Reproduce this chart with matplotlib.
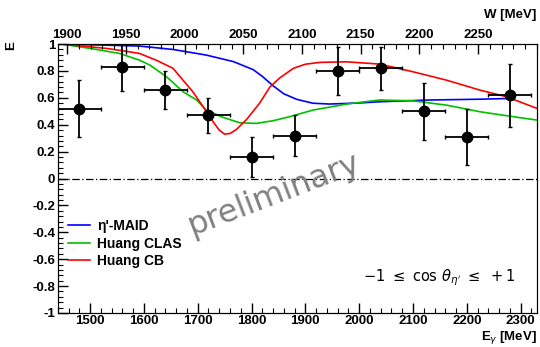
import numpy as np
import matplotlib
matplotlib.use('Agg')
import matplotlib.pyplot as plt
from matplotlib.ticker import MultipleLocator

plt.rcParams['font.family'] = ['Liberation Sans', 'DejaVu Sans']

# measured asymmetry E, bins of 80 MeV in E_gamma
e_gamma = [1480, 1560, 1640, 1720, 1800, 1880, 1960, 2040, 2120, 2200, 2280]
e_val = [0.52, 0.83, 0.66, 0.47, 0.16, 0.32, 0.80, 0.82, 0.50, 0.31, 0.62]
e_err = [0.21, 0.18, 0.14, 0.13, 0.15, 0.15, 0.18, 0.16, 0.21, 0.21, 0.235]
bin_half = [40] * len(e_gamma)

# model curves
maid_x = [1447, 1500, 1592, 1654, 1716, 1766, 1803, 1820, 1840, 1860, 1884, 1914,
          1945, 2000, 2038, 2131, 2224, 2286]
maid_y = [1.0, 0.995, 0.985, 0.96, 0.918, 0.87, 0.81, 0.76, 0.69, 0.63, 0.589, 0.56,
          0.554, 0.562, 0.571, 0.584, 0.59, 0.596]

clas_x = [1447, 1500, 1555, 1592, 1611, 1642, 1673, 1698, 1716, 1747, 1778, 1809,
          1840, 1871, 1914, 1977, 2038, 2100, 2162, 2224, 2286, 2330]
clas_y = [1.0, 0.968, 0.93, 0.88, 0.844, 0.757, 0.645, 0.584, 0.509, 0.455, 0.415, 0.41,
          0.43, 0.46, 0.509, 0.554, 0.584, 0.578, 0.546, 0.497, 0.46, 0.435]

cb_x = [1447, 1530, 1561, 1592, 1623, 1654, 1673, 1691, 1710, 1729, 1740, 1750,
        1760, 1772, 1791, 1815, 1834, 1853, 1878, 1900, 1927, 1977, 2038, 2100,
        2162, 2224, 2274, 2330]
cb_y = [1.0, 0.968, 0.95, 0.93, 0.88, 0.82, 0.73, 0.645, 0.534, 0.42, 0.36, 0.33,
        0.335, 0.365, 0.44, 0.56, 0.68, 0.75, 0.82, 0.85, 0.864, 0.868, 0.851, 0.794,
        0.732, 0.658, 0.608, 0.522]

fig = plt.figure(figsize=(5.4, 3.47), dpi=100)
ax = fig.add_axes([0.107, 0.098, 0.887, 0.775])

ax.axhline(0, color='black', lw=0.9, ls=(0, (6, 2, 1, 2)))
ax.plot(maid_x, maid_y, color='#0000ff', lw=1.2, label="η'-MAID")
ax.plot(clas_x, clas_y, color='#00c000', lw=1.2, label='Huang CLAS')
ax.plot(cb_x, cb_y, color='#ff0000', lw=1.2, label='Huang CB')
ax.errorbar(e_gamma, e_val, yerr=e_err, xerr=bin_half, fmt='o', color='black',
            ms=7.5, elinewidth=1.3, capsize=1.5, capthick=1.0)

ax.set_xlim(1440, 2330)
ax.set_ylim(-1, 1)
ax.xaxis.set_major_locator(MultipleLocator(100))
ax.xaxis.set_minor_locator(MultipleLocator(20))
ax.yaxis.set_major_locator(MultipleLocator(0.2))
ax.yaxis.set_minor_locator(MultipleLocator(0.04))
ax.yaxis.set_major_formatter(plt.FuncFormatter(
    lambda v, p: '%g' % round(v, 2) if abs(v) > 1e-9 else '0'))
ax.tick_params(which='both', direction='in', top=False, right=False,
               labelsize=9.5)
ax.tick_params(which='major', length=7, width=1)
ax.tick_params(which='minor', length=3.5, width=0.8)
for lbl in ax.get_xticklabels() + ax.get_yticklabels():
    lbl.set_fontweight('bold')
ax.tick_params(axis='x', pad=1.5)
ax.tick_params(axis='y', pad=2)

top = ax.twiny()
top.set_xlim(1892, 2300)
top.xaxis.set_major_locator(MultipleLocator(50))
top.xaxis.set_minor_locator(MultipleLocator(10))
top.tick_params(which='both', direction='in', labelsize=9.5, pad=2)
top.tick_params(which='major', length=7, width=1)
top.tick_params(which='minor', length=3.5, width=0.8)
top.set_xticks([1900, 1950, 2000, 2050, 2100, 2150, 2200, 2250])
for lbl in top.get_xticklabels():
    lbl.set_fontweight('bold')

fig.text(0.994, 0.002, r'E$_{\gamma}$ [MeV]', ha='right', va='bottom',
         fontsize=9.5, fontweight='bold')
fig.text(0.994, 0.94, 'W [MeV]', ha='right', va='bottom',
         fontsize=9.5, fontweight='bold')
fig.text(0.02, 0.87, 'E', ha='center', va='center', rotation=90,
         fontsize=9.5, fontweight='bold')

leg = ax.legend(loc='upper left', bbox_to_anchor=(0.01, 0.37), frameon=False,
                fontsize=10, handlelength=1.6, handletextpad=0.5,
                labelspacing=0.25, borderaxespad=0)
for t in leg.get_texts():
    t.set_fontweight('bold')

ax.text(0.45, 0.44, 'preliminary', transform=ax.transAxes, rotation=21,
        fontsize=23, color='#808080', ha='center', va='center',
        family='DejaVu Sans')
ax.text(0.955, 0.13, r'$-1\ \leq\ \cos\,\theta_{\eta^{\prime}}\ \leq\ +1$',
        transform=ax.transAxes, ha='right', va='center', fontsize=10.5)

fig.savefig('out.png', dpi=100)
